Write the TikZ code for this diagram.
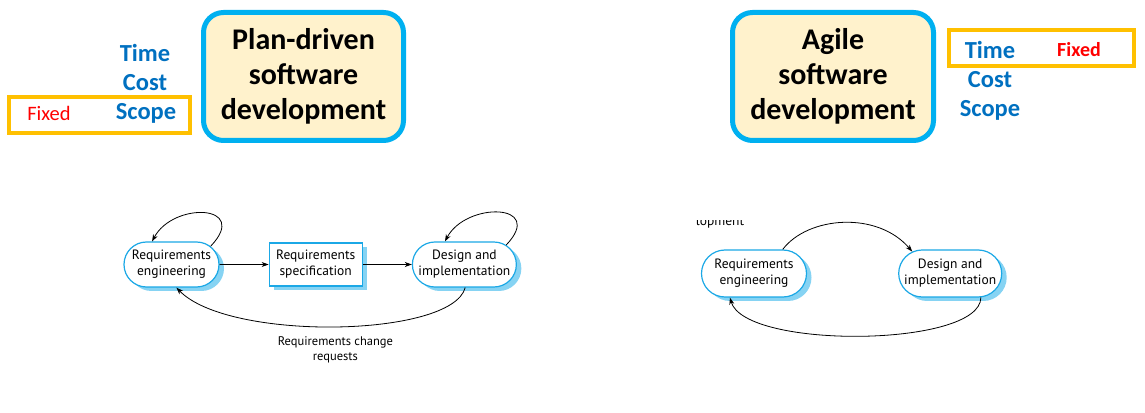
\documentclass[tikz,border=0pt]{standalone}
\usepackage{fontspec}
\setmainfont{Carlito}
\newfontfamily\diagfont{PT Sans}
\usepackage{tikz}
\usetikzlibrary{positioning, arrows.meta, shadows, shapes.misc}

\definecolor{skyblue}{HTML}{00B0F0}
\definecolor{cream}{HTML}{FFF2CC}
\definecolor{textblue}{HTML}{0070C0}
\definecolor{amber}{HTML}{FFC000}
\definecolor{nodeblue}{HTML}{1BA8E6}
\definecolor{shadeblue}{HTML}{86D3F3}

\begin{document}
\begin{tikzpicture}[x=1pt, y=1pt,
  titlebox/.style={draw=skyblue, fill=cream, line width=5pt, rounded corners=20pt,
                   minimum width=200pt, minimum height=128pt, align=center,
                   font=\bfseries\fontsize{30}{35}\selectfont},
  factorlabel/.style={text=textblue, inner sep=0pt, font=\bfseries\fontsize{24.5}{28}\selectfont},
  fixedlabel/.style={text=red, inner sep=0pt, font=\fontsize{20.5}{23}\selectfont},
  fixframe/.style={draw=amber, line width=3.5pt, minimum height=36pt},
  activity/.style={rounded rectangle, draw=nodeblue, fill=white, line width=1.2pt,
                   align=center, minimum height=45pt, minimum width=97pt, inner sep=1pt,
                   font=\diagfont\fontsize{13.5}{16}\selectfont,
                   drop shadow={shadow xshift=5pt, shadow yshift=-4pt, fill=shadeblue, opacity=1}},
  docbox/.style={activity, rectangle, minimum width=93pt, minimum height=43pt},
  arr/.style={-{Stealth[length=7pt, width=5pt]}, line width=0.8pt}
]
\useasboundingbox (0,0) rectangle (1145,412);

% plan-driven heading
\node[fixframe, minimum width=181pt] (frameL) at (99.5,297) {};
\node[titlebox] (planbox) at (303.5,335.5) {Plan-driven\\software\\development};
\node[factorlabel] (timeL) at (145,359) {Time};
\node[factorlabel] (costL) at (145,329) {Cost};
\node[factorlabel] (scopeL) at (146,299) {Scope};
\node[fixedlabel] (fixedL) at (49,299) {Fixed};

% agile heading
\node[titlebox, minimum width=201pt] (agilebox) at (833,335.5) {Agile\\software\\development};
\node[fixframe, minimum width=185pt] (frameR) at (1041.5,364) {};
\node[factorlabel] (timeR) at (990,362) {Time};
\node[factorlabel] (costR) at (990,332) {Cost};
\node[factorlabel] (scopeR) at (990,302) {Scope};
\node[fixedlabel, font=\bfseries\fontsize{20}{23}\selectfont] (fixedR) at (1079,362) {Fixed};

% plan-driven process
\node[activity] (reqL) at (171.5,147.5) {Requirements\\engineering};
\node[docbox, right=49pt of reqL] (spec) {Requirements\\specification};
\node[activity, right=49pt of spec] (desL) {Design and\\implementation};
\draw[arr] (reqL) -- (spec);
\draw[arr] (spec) -- (desL);
\draw[arr] (reqL.25) .. controls +(40,42) and +(21,40) .. (reqL.130);
\draw[arr] (desL.25) .. controls +(40,42) and +(21,40) .. (desL.130);
\draw[arr] (desL.-88) .. controls +(-13,-50) and +(52,-54) ..
  node[below=6pt, align=center, font=\diagfont\fontsize{12.5}{15}\selectfont] (changes) {Requirements change\\requests} (reqL.-78);

% agile process
\begin{scope}
  \clip (680,150) rectangle (770,191.5);
  \node[font=\diagfont\fontsize{13.5}{16}\selectfont, anchor=base] (cutoff) at (720,186) {lopment};
\end{scope}
\node[activity, minimum width=107pt, minimum height=47pt] (reqR) at (754,138.5) {Requirements\\engineering};
\node[activity, minimum width=105pt, minimum height=47pt, right=91pt of reqR] (desR) {Design and\\implementation};
\draw[arr] (reqR.40) .. controls +(25,33) and +(-35,41) .. (desR.150);
\draw[arr] (desR.-38) .. controls +(0,-50) and +(15,-52) .. (reqR.-135);
\end{tikzpicture}
\end{document}
